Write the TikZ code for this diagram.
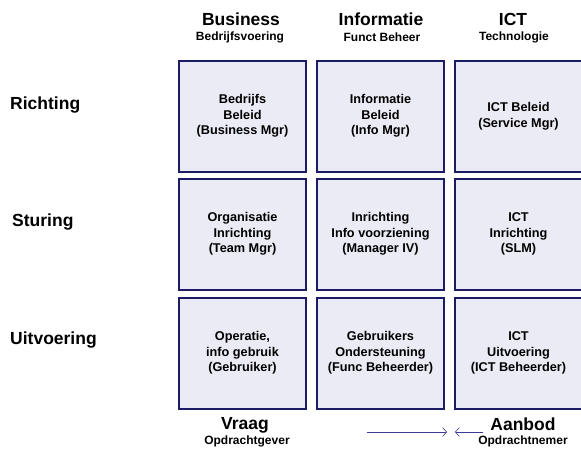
\documentclass[tikz,border=0pt]{standalone}
\usepackage{fontspec}
\setmainfont{Liberation Sans}
\usepackage{tikz}
\usetikzlibrary{arrows.meta, positioning}
\usepackage{xcolor}
\definecolor{cellfill}{RGB}{235,235,245}
\definecolor{celledge}{RGB}{28,28,100}
\definecolor{arrowblue}{RGB}{60,60,150}
\tikzset{
  cell/.style    ={draw=celledge, fill=cellfill, line width=2pt, minimum width=127pt, minimum height=111pt,
                   inner sep=2pt, align=center, font=\bfseries\fontsize{12.7}{15.7}\selectfont},
  colhead/.style ={font=\bfseries\fontsize{17.5}{18}\selectfont, inner sep=0pt},
  colsub/.style  ={font=\bfseries\fontsize{12}{13}\selectfont, inner sep=0pt},
  rowlbl/.style  ={font=\bfseries\fontsize{17.5}{18}\selectfont, inner sep=0pt, anchor=west},
  flow/.style    ={-{Straight Barb[length=4pt, width=9pt]}, line width=0.6pt, arrowblue},
}

\begin{document}
\begin{tikzpicture}[x=1pt, y=-1pt]
  \useasboundingbox (0,0) rectangle (581,448);

  % column headings
  \node[colhead] (hbus) at (241,19) {Business};
  \node[colsub]  (sbus) at (240,37) {Bedrijfsvoering};
  \node[colhead] (hinf) at (381,19) {Informatie};
  \node[colsub]  (sinf) at (382,37) {Funct Beheer};
  \node[colhead] (hict) at (513,19) {ICT};
  \node[colsub]  (sict) at (514,37) {Technologie};

  % row labels
  \node[rowlbl] (rricht) at (10,105) {Richting};
  \node[rowlbl] (rstur)  at (12,222) {Sturing};
  \node[rowlbl] (ruitv)  at (10,340) {Uitvoering};

  % Richting
  \node[cell] (c11) at (242.5,116) {Bedrijfs\\Beleid\\(Business Mgr)};
  \node[cell] (c12) at (380.5,116) {Informatie\\Beleid\\(Info Mgr)};
  \node[cell] (c13) at (518.5,116) {ICT Beleid\\(Service Mgr)};
  % Sturing
  \node[cell] (c21) at (242.5,234) {Organisatie\\Inrichting\\(Team Mgr)};
  \node[cell] (c22) at (380.5,234) {Inrichting\\Info voorziening\\(Manager IV)};
  \node[cell] (c23) at (518.5,234) {ICT\\Inrichting\\(SLM)};
  % Uitvoering
  \node[cell] (c31) at (242.5,353) {Operatie,\\info gebruik\\(Gebruiker)};
  \node[cell] (c32) at (380.5,353) {Gebruikers\\Ondersteuning\\(Func Beheerder)};
  \node[cell] (c33) at (518.5,353) {ICT\\Uitvoering\\(ICT Beheerder)};

  % vraag en aanbod
  \node[colhead] (vraag)  at (245,425) {Vraag};
  \node[colsub]  (vsub)   at (247,441) {Opdrachtgever};
  \node[colhead] (aanbod) at (523,424) {Aanbod};
  \node[colsub]  (asub)   at (523,441) {Opdrachtnemer};

  \coordinate (vfrom) at (367,432);
  \coordinate (vto)   at (447,432);
  \coordinate (afrom) at (483,432);
  \coordinate (ato)   at (455,432);
  \draw[flow] (vfrom) -- (vto);
  \draw[flow] (afrom) -- (ato);
\end{tikzpicture}
\end{document}
